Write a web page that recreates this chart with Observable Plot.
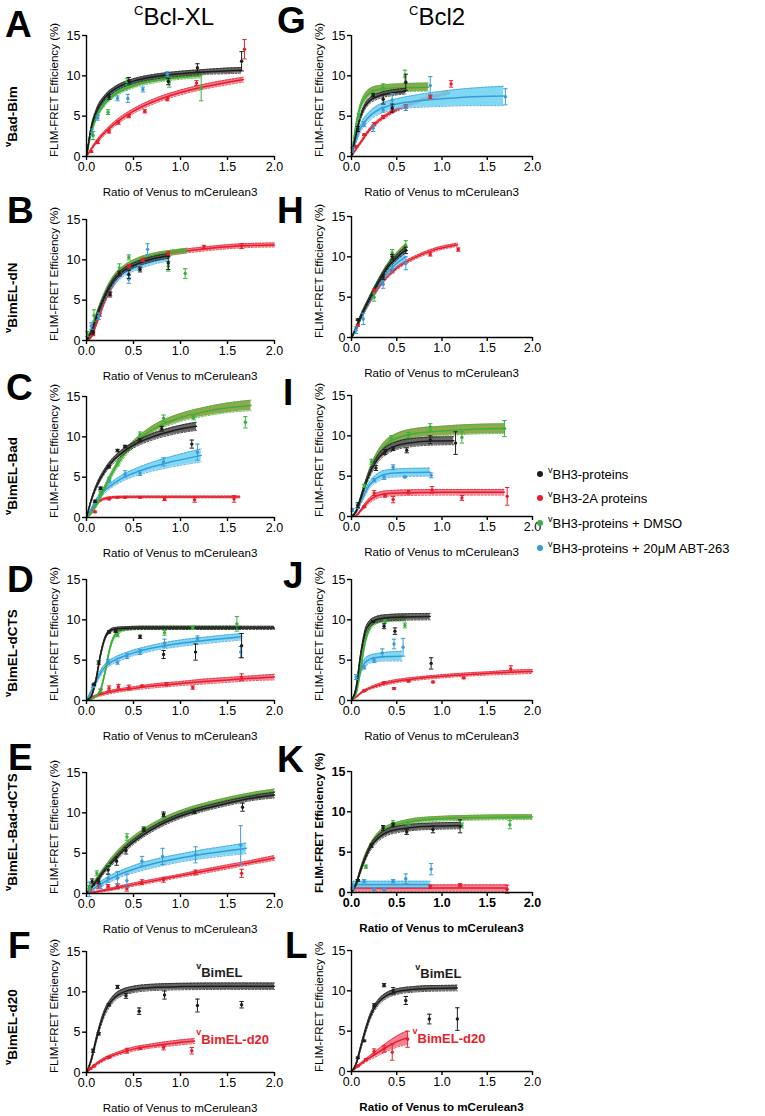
<!DOCTYPE html>
<html><head><meta charset="utf-8">
<script src="https://cdn.jsdelivr.net/npm/d3@7"></script>
<script src="https://cdn.jsdelivr.net/npm/@observablehq/plot@0.6"></script>
<style>
body{margin:0;background:#fff;}
#wrap{position:relative;width:765px;height:1116px;overflow:hidden;font-family:"Liberation Sans",Arial,Helvetica,sans-serif;background:#fff;}
.panel{position:absolute;}
.panel svg{max-width:none !important;overflow:visible;}
#overlay{position:absolute;left:0;top:0;pointer-events:none;}
</style></head><body><div id="wrap"></div>
<script>
// ---------- labels ----------
const columnTitles = ["Bcl-XL", "Bcl2"];
const panelLetters = ["A","B","C","D","E","F","G","H","I","J","K","L"];
const rowLabels = ["Bad-Bim","BimEL-dN","BimEL-Bad","BimEL-dCTS","BimEL-Bad-dCTS","BimEL-d20"];
const xTitle = "Ratio of Venus to mCerulean3";
const yTitle = "FLIM-FRET Efficiency (%)";
const yTitleL = "FLIM-FRET Efficiency (%";
const xTicks = [0, 0.5, 1, 1.5, 2];
const yTicks = [0, 5, 10, 15];
const legendKeys = ["k","r","g","b"];
const legendLabels = ["BH3-proteins","BH3-2A proteins","BH3-proteins + DMSO","BH3-proteins + 20\u03bcM ABT-263"];

// ---------- data: points [series, x, y, err] ; fits [series, x, y, halfBand] ----------
const A_pts = [
["k",0.24,7.4,0.3],["k",0.45,9.4,0.4],["k",0.87,9.3,0.4],["k",1.18,11.0,0.5],["k",1.65,11.8,1.2],
["r",0.05,0.6,0.1],["r",0.12,1.8,0.2],["r",0.24,3.1,0.2],["r",0.34,4.2,0.2],["r",0.45,5.0,0.2],["r",0.62,5.6,0.2],["r",0.86,7.1,0.2],["r",1.17,9.1,0.3],["r",1.68,13.3,1.2],
["g",0.07,2.6,0.5],["g",0.23,5.5,0.3],["g",0.43,9.3,0.4],["g",0.88,9.2,0.6],["g",1.22,8.5,1.6],
["b",0.06,3.0,0.4],["b",0.12,4.8,0.3],["b",0.33,7.2,0.3],["b",0.44,7.2,0.5],["b",0.6,8.3,0.3],["b",0.86,10.2,0.3]];
const A_fit = [
["k",0,0,0],["k",0.05,3.56,0.2],["k",0.1,5.43,0.3],["k",0.2,7.35,0.3],["k",0.3,8.34,0.3],["k",0.5,9.34,0.3],["k",0.75,9.94,0.3],["k",1,10.27,0.3],["k",1.25,10.48,0.3],["k",1.5,10.62,0.35],["k",1.65,10.69,0.35],
["g",0,0,0],["g",0.05,2.95,0.2],["g",0.1,4.67,0.25],["g",0.2,6.59,0.25],["g",0.3,7.64,0.25],["g",0.5,8.75,0.25],["g",0.75,9.44,0.25],["g",1,9.82,0.25],["g",1.22,10.05,0.3],
["b",0,0,0],["b",0.05,3.19,0.2],["b",0.1,5.0,0.3],["b",0.2,6.97,0.3],["b",0.3,8.02,0.3],["b",0.5,9.13,0.3],["b",0.75,9.8,0.3],["b",0.86,9.99,0.3],
["r",0,0,0],["r",0.05,0.9,0.1],["r",0.1,1.69,0.2],["r",0.2,3.0,0.25],["r",0.3,4.05,0.3],["r",0.5,5.63,0.3],["r",0.75,6.98,0.3],["r",1,7.94,0.3],["r",1.25,8.65,0.3],["r",1.5,9.2,0.3],["r",1.67,9.53,0.3]];

const B_pts = [
["k",0.07,1.0,0.2],["k",0.25,5.7,0.3],["k",0.35,8.3,0.3],["k",0.45,8.2,0.5],["k",0.57,8.8,0.3],["k",0.87,9.6,0.8],
["r",0.07,0.8,0.2],["r",0.14,3.2,0.2],["r",0.25,5.8,0.2],["r",0.35,8.3,0.2],["r",0.45,9.2,0.2],["r",0.6,10.0,0.2],["r",0.87,10.8,0.2],["r",1.25,11.6,0.2],["r",1.65,11.7,0.3],
["g",0.01,0.8,0.3],["g",0.08,3.1,0.7],["g",0.35,9.0,0.5],["g",0.45,10.3,0.3],["g",0.87,9.2,0.6],["g",1.05,8.3,0.6],
["b",0.05,1.8,0.4],["b",0.13,3.0,0.4],["b",0.45,7.6,0.5],["b",0.56,9.0,0.3],["b",0.65,11.3,0.7]];
const B_fit = [
["r",0,0,0],["r",0.05,0.4,0.1],["r",0.1,1.9,0.2],["r",0.2,5.0,0.25],["r",0.3,7.2,0.25],["r",0.4,8.5,0.25],["r",0.5,9.3,0.25],["r",0.7,10.3,0.25],["r",1,11.0,0.25],["r",1.3,11.4,0.25],["r",1.6,11.7,0.25],["r",2,11.85,0.25],
["g",0,0,0],["g",0.05,1.2,0.2],["g",0.1,2.9,0.3],["g",0.2,5.9,0.3],["g",0.3,7.9,0.3],["g",0.4,9.0,0.3],["g",0.5,9.7,0.3],["g",0.7,10.5,0.3],["g",0.9,10.9,0.3],["g",1.07,11.15,0.3],
["k",0,0,0],["k",0.05,1.0,0.2],["k",0.1,2.7,0.3],["k",0.2,5.6,0.3],["k",0.3,7.6,0.3],["k",0.4,8.7,0.3],["k",0.5,9.3,0.3],["k",0.7,10.1,0.3],["k",0.88,10.5,0.3],
["b",0,0,0],["b",0.05,1.1,0.2],["b",0.1,2.6,0.35],["b",0.2,5.4,0.4],["b",0.3,7.3,0.4],["b",0.4,8.4,0.4],["b",0.5,9.0,0.4],["b",0.7,9.8,0.4],["b",0.88,10.3,0.4]];

const C_pts = [
["k",0.09,2.0,0.15],["k",0.15,3.6,0.15],["k",0.24,6.3,0.15],["k",0.33,8.3,0.15],["k",0.41,8.8,0.15],["k",0.57,9.6,0.2],["k",0.8,11.0,0.3],["k",1.12,9.1,0.5],
["g",0.15,3.0,0.2],["g",0.24,4.8,0.2],["g",0.33,6.7,0.3],["g",0.57,10.3,0.3],["g",0.82,12.3,0.4],["g",1.14,12.4,0.3],["g",1.69,11.8,0.7],
["b",0.15,3.6,0.2],["b",0.24,4.5,0.2],["b",0.41,5.4,0.4],["b",0.57,5.5,0.3],["b",0.82,6.9,0.5],["b",1.18,8.1,1.0],
["r",0.09,0.7,0.1],["r",0.24,2.3,0.1],["r",0.33,2.5,0.1],["r",0.41,2.5,0.1],["r",0.57,2.5,0.1],["r",0.83,2.3,0.2],["r",1.15,2.2,0.3],["r",1.57,2.3,0.4]];
const C_fit = [
["k",0,0,0],["k",0.05,2.12,0.15],["k",0.1,3.68,0.25],["k",0.2,5.83,0.3],["k",0.3,7.24,0.35],["k",0.4,8.24,0.35],["k",0.5,8.97,0.35],["k",0.7,10.0,0.4],["k",0.9,10.7,0.45],["k",1.17,11.3,0.5],
["g",0,0,0],["g",0.05,0.5,0.1],["g",0.1,1.4,0.2],["g",0.2,3.8,0.3],["g",0.3,6.0,0.35],["g",0.4,7.8,0.4],["g",0.5,9.1,0.4],["g",0.7,10.9,0.45],["g",1,12.4,0.5],["g",1.25,13.1,0.55],["g",1.5,13.6,0.6],["g",1.75,13.9,0.65],
["b",0,0,0],["b",0.05,1.0,0.15],["b",0.1,2.0,0.25],["b",0.2,3.4,0.3],["b",0.3,4.3,0.35],["b",0.4,5.0,0.4],["b",0.5,5.5,0.45],["b",0.7,6.3,0.55],["b",0.9,6.9,0.65],["b",1.22,7.7,0.8],
["r",0,0,0],["r",0.05,0.9,0.1],["r",0.1,1.6,0.12],["r",0.15,2.1,0.12],["r",0.2,2.35,0.12],["r",0.3,2.5,0.12],["r",0.5,2.55,0.12],["r",1,2.55,0.12],["r",1.63,2.55,0.12]];

const D_pts = [
["k",0.08,2.0,0.15],["k",0.13,4.7,0.2],["k",0.24,8.5,0.15],["k",0.31,8.6,0.15],["k",0.57,7.9,0.2],["k",0.82,5.7,0.5],["k",1.16,6.0,1.0],["k",1.65,6.8,1.5],
["g",0.15,1.2,0.2],["g",0.33,8.1,0.2],["g",0.83,8.4,0.3],["g",1.13,9.0,0.2],["g",1.6,9.5,0.9],
["b",0.07,1.8,0.2],["b",0.23,4.8,0.3],["b",0.33,4.7,0.2],["b",0.43,5.5,0.3],["b",0.57,6.0,0.3],["b",0.83,7.1,0.5],["b",1.18,7.7,0.3],["b",1.64,6.0,0.7],
["r",0.15,1.1,0.3],["r",0.24,1.5,0.3],["r",0.34,1.7,0.3],["r",0.45,1.6,0.3],["r",0.59,1.8,0.1],["r",0.85,2.0,0.2],["r",1.13,1.6,0.2],["r",1.65,2.9,0.4]];
const D_fit = [
["k",0,0,0],["k",0.05,0.5,0.1],["k",0.1,2.5,0.2],["k",0.15,5.7,0.2],["k",0.2,7.8,0.2],["k",0.25,8.6,0.2],["k",0.3,8.85,0.2],["k",0.4,8.95,0.2],["k",0.6,9.0,0.2],["k",1,9.0,0.2],["k",2,9.0,0.2],
["g",0,0,0],["g",0.1,0.5,0.1],["g",0.15,1.3,0.15],["g",0.2,3.6,0.2],["g",0.25,6.5,0.2],["g",0.3,8.0,0.2],["g",0.35,8.6,0.2],["g",0.45,8.9,0.2],["g",0.6,9.0,0.2],["g",1,9.0,0.2],["g",1.65,9.0,0.2],
["b",0,0,0],["b",0.05,1.1,0.2],["b",0.1,2.3,0.3],["b",0.15,3.4,0.35],["b",0.2,4.2,0.35],["b",0.3,5.0,0.35],["b",0.4,5.5,0.35],["b",0.5,5.9,0.35],["b",0.7,6.5,0.35],["b",1,7.1,0.4],["b",1.3,7.5,0.4],["b",1.65,7.9,0.4],
["r",0,0,0],["r",0.05,0.3,0.1],["r",0.1,0.55,0.15],["r",0.2,0.9,0.2],["r",0.3,1.15,0.2],["r",0.5,1.5,0.2],["r",0.75,1.85,0.25],["r",1,2.1,0.25],["r",1.25,2.35,0.3],["r",1.5,2.55,0.3],["r",1.75,2.75,0.3],["r",2,2.9,0.35]];

const E_pts = [
["k",0.06,1.5,0.3],["k",0.13,1.5,0.3],["k",0.23,2.9,0.5],["k",0.32,4.0,0.5],["k",0.42,5.3,0.4],["k",0.61,7.9,0.2],["k",0.82,9.8,0.3],["k",1.15,10.1,0.2],["k",1.66,10.7,0.5],
["g",0.03,0.8,0.2],["g",0.11,2.5,0.3],["g",0.23,3.3,0.3],["g",0.43,7.0,0.4],["g",0.61,8.1,0.2],["g",0.82,9.6,0.3],["g",1.15,10.1,0.2],
["b",0.03,0.5,0.9],["b",0.15,0.9,0.3],["b",0.23,1.9,0.5],["b",0.33,1.9,0.8],["b",0.43,1.6,0.8],["b",0.59,4.0,0.6],["b",0.81,4.6,1.0],["b",1.16,4.8,1.0],["b",1.64,6.0,2.4],
["r",0.04,0.5,0.2],["r",0.13,0.9,0.3],["r",0.23,0.9,0.2],["r",0.33,0.9,0.3],["r",0.43,0.6,0.3],["r",0.59,1.4,0.3],["r",0.82,1.7,0.3],["r",1.16,2.6,0.3],["r",1.65,2.5,0.5]];
const E_fit = [
["g",0,0,0],["g",0.1,1.6,0.2],["g",0.2,3.2,0.25],["g",0.3,4.6,0.3],["g",0.4,5.8,0.3],["g",0.5,6.8,0.3],["g",0.75,8.7,0.3],["g",1,10.0,0.3],["g",1.25,10.9,0.3],["g",1.5,11.6,0.3],["g",1.75,12.2,0.3],["g",2,12.6,0.35],
["k",0,0,0],["k",0.1,1.4,0.2],["k",0.2,2.9,0.25],["k",0.3,4.2,0.3],["k",0.4,5.4,0.3],["k",0.5,6.4,0.3],["k",0.75,8.3,0.3],["k",1,9.6,0.3],["k",1.25,10.5,0.3],["k",1.5,11.2,0.3],["k",1.75,11.8,0.3],["k",2,12.2,0.35],
["b",0,0,0],["b",0.1,0.8,0.3],["b",0.2,1.5,0.35],["b",0.3,2.1,0.4],["b",0.4,2.6,0.4],["b",0.5,3.0,0.45],["b",0.75,3.8,0.5],["b",1,4.4,0.5],["b",1.25,4.9,0.55],["b",1.5,5.3,0.6],["b",1.7,5.6,0.65],
["r",0,0,0],["r",0.25,0.5,0.15],["r",0.5,1.1,0.2],["r",0.75,1.65,0.2],["r",1,2.2,0.2],["r",1.25,2.75,0.25],["r",1.5,3.3,0.25],["r",1.75,3.85,0.25],["r",2,4.4,0.3]];

const F_pts = [
["k",0.07,2.7,0.2],["k",0.13,4.8,0.15],["k",0.24,8.4,0.15],["k",0.33,10.6,0.2],["k",0.42,9.5,0.3],["k",0.56,7.6,0.4],["k",0.83,9.6,0.5],["k",1.18,8.3,0.8],["k",1.65,8.4,0.4],
["r",0.04,0.5,0.1],["r",0.08,0.8,0.1],["r",0.24,1.9,0.1],["r",0.43,2.7,0.3],["r",0.57,3.0,0.1],["r",0.82,3.1,0.3],["r",1.12,2.7,0.4]];
const F_fit = [
["k",0,0,0],["k",0.05,1.5,0.2],["k",0.1,3.9,0.3],["k",0.15,6.0,0.35],["k",0.2,7.6,0.4],["k",0.25,8.6,0.4],["k",0.3,9.3,0.4],["k",0.4,10.0,0.4],["k",0.5,10.3,0.4],["k",0.7,10.55,0.4],["k",1,10.65,0.4],["k",1.5,10.7,0.4],["k",2,10.7,0.4],
["r",0,0,0],["r",0.1,1.0,0.15],["r",0.2,1.7,0.2],["r",0.3,2.2,0.2],["r",0.5,2.9,0.25],["r",0.7,3.3,0.25],["r",0.9,3.6,0.3],["r",1.15,3.9,0.3]];

const G_pts = [
["g",0.08,5.0,0.3],["g",0.24,7.9,0.3],["g",0.35,8.6,0.4],["g",0.59,9.9,0.8],
["k",0.07,3.4,0.3],["k",0.24,7.6,0.2],["k",0.35,7.1,0.6],["k",0.45,6.0,0.5],["k",0.6,9.2,1.0],
["b",0.01,0.8,0.3],["b",0.14,4.0,0.3],["b",0.24,3.5,0.4],["b",0.35,5.8,0.3],["b",0.45,7.0,0.8],["b",0.6,6.0,0.3],["b",0.87,8.8,1.1],["b",1.7,7.4,1.0],
["r",0.05,1.2,0.1],["r",0.14,2.7,0.1],["r",0.25,4.0,0.2],["r",0.35,4.9,0.2],["r",0.45,5.9,0.3],["r",0.6,6.2,0.2],["r",0.87,7.4,0.2],["r",1.1,9.0,0.4]];
const G_fit = [
["b",0,0,0],["b",0.05,2.0,0.3],["b",0.1,3.5,0.45],["b",0.2,5.0,0.55],["b",0.3,5.8,0.6],["b",0.5,6.5,0.65],["b",0.75,6.9,0.8],["b",1,7.15,0.95],["b",1.25,7.35,1.05],["b",1.68,7.5,1.2],
["r",0,0,0],["r",0.05,0.9,0.1],["r",0.1,1.7,0.15],["r",0.2,3.3,0.2],["r",0.3,4.4,0.2],["r",0.4,5.2,0.2],["r",0.5,5.8,0.2],["r",0.7,6.7,0.2],["r",0.9,7.4,0.2],["r",1.08,7.9,0.2],
["g",0,0,0],["g",0.05,3.8,0.3],["g",0.1,6.2,0.4],["g",0.15,7.3,0.5],["g",0.2,7.9,0.5],["g",0.3,8.3,0.5],["g",0.5,8.5,0.5],["g",0.85,8.6,0.5],
["k",0,0,0],["k",0.05,2.7,0.2],["k",0.1,4.9,0.3],["k",0.15,6.2,0.35],["k",0.2,6.9,0.35],["k",0.3,7.5,0.35],["k",0.45,7.9,0.35],["k",0.6,8.1,0.35]];

const H_pts = [
["r",0.07,1.5,0.1],["r",0.25,5.8,0.2],["r",0.45,8.2,0.2],["r",0.87,10.3,0.2],["r",1.18,10.9,0.2],
["g",0.25,5.0,0.5],["g",0.45,10.5,0.4],["g",0.6,11.4,0.6],
["b",0.05,0.9,0.4],["b",0.13,2.3,0.7],["b",0.35,6.6,0.5],["b",0.45,8.5,0.4],["b",0.6,9.2,0.8],
["k",0.07,2.2,0.1],["k",0.35,7.5,0.3],["k",0.45,10.0,0.3],["k",0.6,10.8,0.4]];
const H_fit = [
["r",0,0,0],["r",0.05,1.0,0.1],["r",0.1,2.3,0.15],["r",0.2,4.4,0.2],["r",0.3,6.2,0.2],["r",0.4,7.6,0.2],["r",0.5,8.6,0.2],["r",0.7,9.9,0.2],["r",0.9,10.8,0.2],["r",1.17,11.5,0.2],
["b",0,0,0],["b",0.05,1.0,0.2],["b",0.1,2.4,0.3],["b",0.2,4.6,0.35],["b",0.3,6.6,0.4],["b",0.4,8.1,0.4],["b",0.5,9.2,0.45],["b",0.6,10.0,0.5],
["g",0,0,0],["g",0.05,1.2,0.15],["g",0.1,2.6,0.2],["g",0.2,4.9,0.25],["g",0.3,7.0,0.3],["g",0.4,8.9,0.3],["g",0.5,10.2,0.35],["g",0.6,11.3,0.35],
["k",0,0,0],["k",0.05,1.1,0.15],["k",0.1,2.5,0.2],["k",0.2,4.8,0.25],["k",0.3,6.9,0.3],["k",0.4,8.7,0.3],["k",0.5,9.9,0.35],["k",0.6,10.9,0.35]];

const I_pts = [
["g",0.14,3.8,0.2],["g",0.22,6.8,0.3],["g",0.44,9.7,0.3],["g",0.63,10.1,0.3],["g",0.87,11.1,0.4],["g",1.22,9.8,0.7],["g",1.69,10.9,1.0],
["k",0.07,1.4,0.3],["k",0.27,6.0,0.3],["k",0.37,8.0,0.3],["k",0.46,8.4,0.2],["k",0.61,8.2,0.3],["k",0.87,9.5,0.5],["k",1.15,9.1,1.4],
["b",0.01,0.8,0.2],["b",0.07,1.2,0.2],["b",0.25,4.5,0.2],["b",0.36,4.9,0.3],["b",0.46,6.1,0.3],["b",0.59,4.9,0.1],["b",0.88,5.1,0.3],
["r",0.14,1.2,0.1],["r",0.25,2.9,0.3],["r",0.37,2.6,0.2],["r",0.46,2.1,0.4],["r",0.63,3.0,0.2],["r",0.89,3.3,0.4],["r",1.22,2.3,0.3],["r",1.72,2.5,1.1]];
const I_fit = [
["r",0,0,0],["r",0.05,0.1,0.05],["r",0.1,0.7,0.15],["r",0.15,1.4,0.25],["r",0.2,2.0,0.3],["r",0.25,2.4,0.35],["r",0.3,2.65,0.35],["r",0.4,2.85,0.35],["r",0.6,2.95,0.35],["r",1,3.0,0.35],["r",1.69,3.0,0.35],
["b",0,0,0],["b",0.05,0.5,0.1],["b",0.1,1.7,0.25],["b",0.15,2.9,0.35],["b",0.2,3.9,0.4],["b",0.25,4.5,0.45],["b",0.3,4.9,0.5],["b",0.4,5.3,0.5],["b",0.6,5.45,0.5],["b",0.87,5.5,0.5],
["g",0,0,0],["g",0.05,0.6,0.1],["g",0.1,2.2,0.25],["g",0.15,3.9,0.35],["g",0.2,5.5,0.45],["g",0.3,7.8,0.5],["g",0.4,9.1,0.55],["g",0.5,9.7,0.6],["g",0.7,10.3,0.6],["g",1,10.6,0.6],["g",1.3,10.8,0.6],["g",1.69,10.9,0.6],
["k",0,0,0],["k",0.05,0.6,0.1],["k",0.1,2.2,0.2],["k",0.15,3.9,0.3],["k",0.2,5.3,0.4],["k",0.3,7.3,0.45],["k",0.4,8.3,0.5],["k",0.5,8.8,0.5],["k",0.7,9.2,0.5],["k",0.9,9.35,0.5],["k",1.13,9.4,0.5]];

const J_pts = [
["k",0.24,9.8,0.1],["k",0.36,9.2,0.3],["k",0.48,8.6,0.4],["k",0.88,4.6,0.7],
["g",0.37,9.8,0.2],["g",0.59,9.3,0.3],
["b",0.05,2.9,0.3],["b",0.14,4.1,0.2],["b",0.25,5.0,0.3],["b",0.34,5.9,0.5],["b",0.47,7.0,0.6],["b",0.57,6.6,1.1],
["r",0.14,1.2,0.1],["r",0.36,2.2,0.1],["r",0.47,1.5,0.1],["r",0.63,2.4,0.1],["r",0.9,2.3,0.1],["r",1.24,2.8,0.1],["r",1.76,3.9,0.4]];
const J_fit = [
["r",0,0,0],["r",0.05,0.4,0.05],["r",0.1,0.9,0.1],["r",0.2,1.5,0.15],["r",0.3,1.9,0.2],["r",0.5,2.4,0.2],["r",0.75,2.75,0.2],["r",1,3.0,0.2],["r",1.25,3.2,0.2],["r",1.5,3.35,0.2],["r",1.75,3.5,0.25],["r",2,3.6,0.25],
["b",0,0,0],["b",0.05,1.2,0.2],["b",0.1,3.7,0.4],["b",0.15,4.7,0.5],["b",0.2,5.1,0.5],["b",0.3,5.35,0.5],["b",0.4,5.45,0.55],["b",0.56,5.5,0.6],
["g",0,0,0],["g",0.05,0.8,0.1],["g",0.1,3.8,0.3],["g",0.15,7.2,0.3],["g",0.2,8.9,0.3],["g",0.25,9.6,0.3],["g",0.3,9.9,0.3],["g",0.4,10.1,0.3],["g",0.6,10.2,0.35],
["k",0,0,0],["k",0.05,1.5,0.15],["k",0.1,5.5,0.3],["k",0.15,8.4,0.4],["k",0.2,9.5,0.4],["k",0.25,9.9,0.4],["k",0.3,10.1,0.4],["k",0.4,10.25,0.4],["k",0.6,10.35,0.4],["k",0.87,10.4,0.4]];

const K_pts = [
["k",0.07,1.5,0.1],["k",0.22,5.8,0.2],["k",0.35,8.0,0.3],["k",0.46,8.4,0.2],["k",0.61,7.5,0.3],["k",0.9,7.8,0.4],["k",1.2,8.2,0.8],
["g",0.07,1.5,0.1],["g",0.16,3.2,0.2],["g",0.35,8.0,0.2],["g",0.46,8.6,0.3],["g",0.63,8.6,0.2],["g",1.22,8.3,0.3],["g",1.75,8.4,0.5],
["b",0.01,0.5,0.1],["b",0.14,1.4,0.2],["b",0.25,0.4,0.2],["b",0.36,0.4,0.2],["b",0.46,1.4,0.2],["b",0.6,1.7,0.6],["b",0.88,2.9,0.7],
["r",0.87,0.7,0.2],["r",1.2,0.9,0.2],["r",1.72,0.4,0.5]];
const K_fit = [
["r",0,0,0],["r",0.02,0.55,0.4],["r",1.72,0.55,0.4],
["b",0,0,0],["b",0.02,1.0,0.4],["b",0.87,1.0,0.4],
["g",0,0,0],["g",0.05,1.0,0.15],["g",0.1,2.8,0.25],["g",0.15,4.4,0.3],["g",0.2,5.6,0.3],["g",0.3,7.2,0.3],["g",0.4,8.0,0.3],["g",0.5,8.4,0.3],["g",0.7,8.9,0.3],["g",1,9.15,0.3],["g",1.5,9.3,0.3],["g",2,9.35,0.3],
["k",0,0,0],["k",0.05,1.0,0.15],["k",0.1,2.7,0.25],["k",0.15,4.2,0.3],["k",0.2,5.4,0.35],["k",0.3,6.8,0.4],["k",0.4,7.5,0.4],["k",0.5,7.8,0.4],["k",0.7,8.1,0.4],["k",1,8.25,0.4],["k",1.2,8.3,0.4]];

const L_pts = [
["k",0.07,1.7,0.1],["k",0.14,3.8,0.1],["k",0.25,8.2,0.2],["k",0.36,10.7,0.2],["k",0.46,10.0,0.4],["k",0.6,8.8,0.5],["k",0.86,6.5,0.6],["k",1.17,6.5,1.4],
["r",0.07,0.7,0.1],["r",0.16,1.5,0.1],["r",0.25,2.5,0.3],["r",0.36,2.8,0.4],["r",0.45,2.4,1.0],["r",0.62,4.0,1.0]];
const L_fit = [
["r",0,0,0],["r",0.1,0.9,0.15],["r",0.2,1.7,0.25],["r",0.3,2.4,0.4],["r",0.4,3.1,0.55],["r",0.5,3.7,0.7],["r",0.62,4.2,0.85],
["k",0,0,0],["k",0.05,0.9,0.15],["k",0.1,2.9,0.25],["k",0.15,4.9,0.3],["k",0.2,6.6,0.35],["k",0.25,7.8,0.35],["k",0.3,8.6,0.35],["k",0.4,9.5,0.35],["k",0.5,9.9,0.35],["k",0.7,10.2,0.35],["k",0.9,10.3,0.35],["k",1.17,10.35,0.35]];

const F_notes = [["k","BimEL",1.22,12.3],["r","BimEL-d20",1.22,4.1]];
const L_notes = [["k","BimEL",0.76,12.1],["r","BimEL-d20",0.73,4.1]];

// ---------- styling ----------
const order = ["r","b","g","k"];
const lineColor = {k:"#1d1d1b", r:"#e71d2a", g:"#38b23c", b:"#3a9ad9"};
const bandColor = {k:"#4d4d4d", r:"#f06a80", g:"#7c9a2f", b:"#6ad2f1"};
const FONT = '"Liberation Sans", Arial, Helvetica, sans-serif';
const hline = {draw(ctx, size){const r=Math.sqrt(size/Math.PI); ctx.moveTo(-r,0); ctx.lineTo(r,0);}};

const wrap = document.getElementById("wrap");
const PH = 121, MT = 10, MB = 45, ML = 86, MR = 12;

function drawPanel(cfg){
  const {pts, fit, notes=[], left, top, plotW, bold=false} = cfg;
  const P = pts.map(d=>({s:d[0],x:d[1],y:d[2],lo:d[2]-d[3],hi:d[2]+d[3]}));
  const F = fit.map(d=>({s:d[0],x:d[1],y:d[2],lo:d[2]-d[3],hi:d[2]+d[3]}));
  const N = notes.map(d=>({s:d[0],t:d[1],x:d[2],y:d[3]}));
  const marks = [];
  for (const s of order){
    const f = F.filter(d=>d.s===s); if(!f.length) continue;
    marks.push(Plot.areaY(f,{x:"x",y1:"lo",y2:"hi",fill:bandColor[s],fillOpacity:0.85,curve:"monotone-x"}));
    marks.push(Plot.line(f,{x:"x",y:"lo",stroke:lineColor[s],strokeWidth:0.8,strokeDasharray:"2,1.5",curve:"monotone-x"}));
    marks.push(Plot.line(f,{x:"x",y:"hi",stroke:lineColor[s],strokeWidth:0.8,strokeDasharray:"2,1.5",curve:"monotone-x"}));
    marks.push(Plot.line(f,{x:"x",y:"y",stroke:lineColor[s],strokeWidth:1.5,curve:"monotone-x"}));
  }
  for (const s of order){
    const p = P.filter(d=>d.s===s); if(!p.length) continue;
    marks.push(Plot.ruleX(p,{x:"x",y1:"lo",y2:"hi",stroke:lineColor[s],strokeWidth:1}));
    marks.push(Plot.dot(p,{x:"x",y:"lo",symbol:hline,r:2.2,fill:"none",stroke:lineColor[s],strokeWidth:1}));
    marks.push(Plot.dot(p,{x:"x",y:"hi",symbol:hline,r:2.2,fill:"none",stroke:lineColor[s],strokeWidth:1}));
    marks.push(Plot.dot(p,{x:"x",y:"y",r:1.7,fill:lineColor[s],stroke:"none"}));
  }
  if (N.length){
    marks.push(Plot.text(N,{x:"x",y:"y",text:"t",textAnchor:"start",fill:d=>lineColor[d.s],fontWeight:"bold",fontSize:13}));
    marks.push(Plot.text(N,{x:"x",y:"y",text:()=>"v",textAnchor:"start",dx:-5,dy:-7,fill:d=>lineColor[d.s],fontWeight:"bold",fontSize:9}));
  }
  marks.push(Plot.ruleX([0],{stroke:"#000",strokeWidth:1.4}));
  marks.push(Plot.ruleY([0],{stroke:"#000",strokeWidth:1.4}));
  marks.push(Plot.axisY({ticks:yTicks, tickSize:4, tickPadding:2, label:null, strokeWidth:1.4, fontSize:12.5}));
  marks.push(Plot.axisX({ticks:xTicks, tickSize:4, tickPadding:2, tickFormat:d3.format(".1f"), label:null, strokeWidth:1.4, fontSize:12.5}));
  const svg = Plot.plot({
    width: ML+plotW+MR, height: MT+PH+MB,
    marginTop: MT, marginBottom: MB, marginLeft: ML, marginRight: MR,
    x:{domain:[0,2]}, y:{domain:[0,15]},
    style:{fontFamily:FONT, fontSize:"12.5px", color:"#000", background:"transparent", fontWeight: bold ? "bold" : "normal"},
    marks
  });
  const div = document.createElement("div");
  div.className = "panel";
  div.style.left = (left - ML) + "px";
  div.style.top = (top - MT) + "px";
  div.style.width = (ML+plotW+MR) + "px";
  div.appendChild(svg);
  wrap.appendChild(div);
}

const LEFT = {x:86, w:188}, RIGHT = {x:351, w:181};
const panels = [
  {pts:A_pts, fit:A_fit, col:LEFT, top:35},
  {pts:B_pts, fit:B_fit, col:LEFT, top:219},
  {pts:C_pts, fit:C_fit, col:LEFT, top:396},
  {pts:D_pts, fit:D_fit, col:LEFT, top:579},
  {pts:E_pts, fit:E_fit, col:LEFT, top:772},
  {pts:F_pts, fit:F_fit, col:LEFT, top:951, notes:F_notes},
  {pts:G_pts, fit:G_fit, col:RIGHT, top:35},
  {pts:H_pts, fit:H_fit, col:RIGHT, top:216},
  {pts:I_pts, fit:I_fit, col:RIGHT, top:395},
  {pts:J_pts, fit:J_fit, col:RIGHT, top:579},
  {pts:K_pts, fit:K_fit, col:RIGHT, top:771, bold:true, xBold:true, yBold:true},
  {pts:L_pts, fit:L_fit, col:RIGHT, top:950, xBold:true, yLabel:yTitleL, notes:L_notes}
];
panels.forEach(p=>drawPanel({pts:p.pts, fit:p.fit, notes:p.notes, left:p.col.x, top:p.top, plotW:p.col.w, bold:!!p.bold}));

// ---------- overlay text ----------
const ov = d3.select(wrap).append("svg").attr("id","overlay").attr("width",765).attr("height",1116)
  .attr("font-family", FONT);

panels.forEach((p,i)=>{
  const ax = p.col.x, bottom = p.top + PH;
  ov.append("text").attr("x", ax + p.col.w/2).attr("y", bottom + 40).attr("text-anchor","middle")
    .attr("font-size", 11.6).attr("font-weight", p.xBold ? "bold" : "normal").text(xTitle);
  ov.append("text").attr("transform", `translate(${ax-28},${bottom+1}) rotate(-90)`).attr("text-anchor","start")
    .attr("font-size", 11.6).attr("font-weight", p.yBold ? "bold" : "normal").text(p.yLabel || yTitle);
});

const letterPos = [[5,37],[7,223],[6,400],[7,592],[8,770],[8,958],[277,33],[277,223],[283,405],[283,588],[277,772],[285,958]];
panelLetters.forEach((L,i)=>{
  ov.append("text").attr("x",letterPos[i][0]).attr("y",letterPos[i][1]).attr("font-size",37).attr("font-weight","bold").text(L);
});

const rowStart = [147, 333, 515, 697, 891, 1065];
rowLabels.forEach((t,i)=>{
  const tx = ov.append("text").attr("transform",`translate(17,${rowStart[i]}) rotate(-90)`).attr("font-weight","bold").attr("font-size",13.5);
  tx.append("tspan").attr("font-size",9.5).attr("dy",-6).text("v");
  tx.append("tspan").attr("dy",6).text(t);
});

[[134, columnTitles[0]],[409, columnTitles[1]]].forEach(([x,t])=>{
  const tx = ov.append("text").attr("x",x).attr("y",25).attr("font-size",24);
  tx.append("tspan").attr("font-size",13).attr("dy",-10).text("C");
  tx.append("tspan").attr("dy",10).text(t);
});

const legendY = [474, 498, 523, 548];
legendKeys.forEach((k,i)=>{
  ov.append("circle").attr("cx",540).attr("cy",legendY[i]).attr("r",3).attr("fill",lineColor[k]);
  const tx = ov.append("text").attr("x",548).attr("y",legendY[i]+4.5).attr("font-size",13);
  tx.append("tspan").attr("font-size",9).attr("dy",-6).text("v");
  tx.append("tspan").attr("dy",6).text(legendLabels[i]);
});
</script></body></html>
